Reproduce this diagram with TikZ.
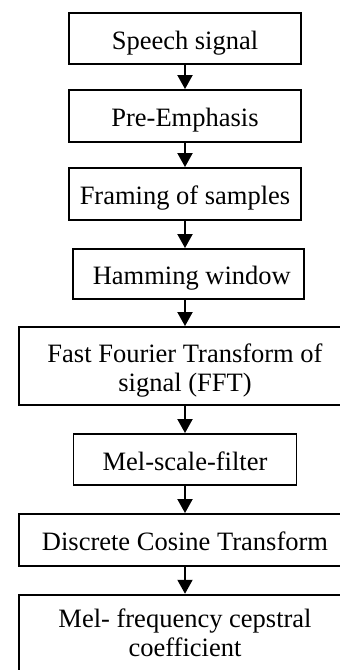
\documentclass[tikz,border=0pt]{standalone}
\usepackage{fontspec}
\setmainfont{Liberation Serif}
\usetikzlibrary{arrows.meta,positioning,calc}

\begin{document}
\begin{tikzpicture}[x=1pt,y=-1pt,
  stage/.style={draw,line width=1.9pt,inner sep=0pt,align=center,
    font=\fontsize{26.5}{28.7}\selectfont,text height=24pt,text depth=3pt},
  flow/.style={line width=1.9pt,-{Triangle[length=14pt,width=15pt]}}]
\useasboundingbox (0,0) rectangle (340,670);
\clip (0,0) rectangle (340,670);
\node[stage,minimum width=232,minimum height=51] (speech) at (185,38.5) {Speech signal};
\node[stage,minimum width=232,minimum height=52] (preemph) at (185,116) {Pre-Emphasis};
\node[stage,minimum width=232,minimum height=52] (framing) at (185,194) {Framing of samples};
\node[stage,minimum width=231,minimum height=50] (hamming) at (188.5,274) {\ Hamming window};
\node[stage,minimum width=332,minimum height=78,text height=52pt,text depth=2pt] (fft) at (185,366) {Fast Fourier Transform of\\signal (FFT)};
\node[stage,minimum width=223,minimum height=51] (melfilter) at (185,459.5) {Mel-scale-filter};
\node[stage,minimum width=332,minimum height=52] (dct) at (185,540) {Discrete Cosine Transform};
\node[stage,minimum width=332,minimum height=90,text height=35pt,text depth=2pt] (mfcc) at (185,639.7) {Mel- frequency cepstral\\coefficient};
% arrows between the stages
\draw[flow] (speech.south -| fft.center) -- (preemph.north -| fft.center);
\draw[flow] (preemph.south -| fft.center) -- (framing.north -| fft.center);
\draw[flow] (framing.south -| fft.center) -- (hamming.north -| fft.center);
\draw[flow] (hamming.south -| fft.center) -- (fft.north);
\draw[flow] (fft.south) -- (melfilter.north -| fft.center);
\draw[flow] (melfilter.south -| fft.center) -- (dct.north);
\draw[flow] (dct.south) -- (mfcc.north);
\end{tikzpicture}
\end{document}
